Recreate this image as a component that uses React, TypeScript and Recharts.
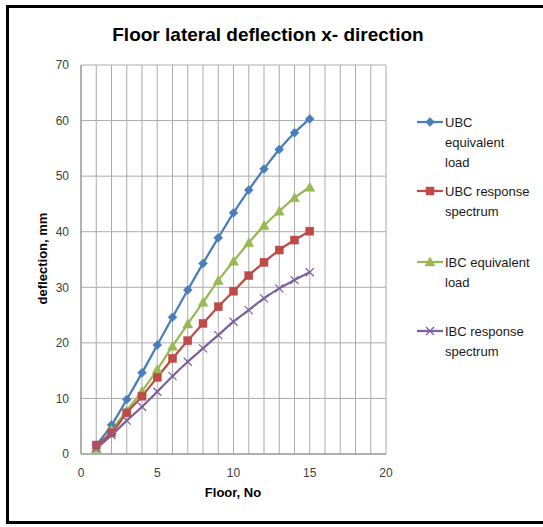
import React from "react";
import { LineChart, Line, XAxis, YAxis, CartesianGrid } from "recharts";

const floors = [1, 2, 3, 4, 5, 6, 7, 8, 9, 10, 11, 12, 13, 14, 15];
const ubcEquivalent = [1.6, 5.2, 9.8, 14.6, 19.6, 24.6, 29.5, 34.3, 38.9, 43.4, 47.5, 51.3, 54.8, 57.8, 60.3];
const ubcResponse = [1.6, 3.8, 7.4, 10.4, 13.8, 17.2, 20.4, 23.5, 26.5, 29.3, 32.1, 34.5, 36.7, 38.5, 40.1];
const ibcEquivalent = [1.0, 4.3, 7.8, 11.3, 15.2, 19.4, 23.4, 27.3, 31.2, 34.7, 38.0, 41.1, 43.7, 46.1, 48.0];
const ibcResponse = [1.0, 3.4, 6.0, 8.5, 11.2, 14.0, 16.6, 19.0, 21.4, 23.8, 25.9, 28.0, 29.8, 31.3, 32.7];
const xTicks = [0, 1, 2, 3, 4, 5, 6, 7, 8, 9, 10, 11, 12, 13, 14, 15, 16, 17, 18, 19, 20];
const yTicks = [0, 10, 20, 30, 40, 50, 60, 70];

const data = floors.map((f, i) => ({
  floor: f,
  ubcEq: ubcEquivalent[i],
  ubcRs: ubcResponse[i],
  ibcEq: ibcEquivalent[i],
  ibcRs: ibcResponse[i],
}));

const BLUE = "#4A7EBB";
const RED = "#BE4B48";
const GREEN = "#98B954";
const PURPLE = "#7D60A0";

const FONT = "'Liberation Sans', Arial, sans-serif";

type Shape = "diamond" | "square" | "triangle" | "cross";

function marker(shape: Shape, color: string, cx: number, cy: number, key?: any) {
  if (shape === "diamond") {
    const s = 4.5;
    return (
      <path key={key} d={`M${cx},${cy - s} L${cx + s},${cy} L${cx},${cy + s} L${cx - s},${cy} Z`} fill={color} stroke={color} strokeWidth={0.5} />
    );
  }
  if (shape === "square") {
    const s = 4;
    return <rect key={key} x={cx - s} y={cy - s} width={2 * s} height={2 * s} fill={color} stroke={color} strokeWidth={0.5} />;
  }
  if (shape === "triangle") {
    const s = 5;
    return (
      <path key={key} d={`M${cx},${cy - s} L${cx + s},${cy + s * 0.8} L${cx - s},${cy + s * 0.8} Z`} fill={color} stroke={color} strokeWidth={0.5} />
    );
  }
  const s = 4;
  return (
    <g key={key} stroke={color} strokeWidth={1.2}>
      <line x1={cx - s} y1={cy - s} x2={cx + s} y2={cy + s} />
      <line x1={cx - s} y1={cy + s} x2={cx + s} y2={cy - s} />
    </g>
  );
}

const makeDot = (shape: Shape, color: string) => (props: any) => {
  const { cx, cy, index } = props;
  if (cx == null || cy == null) return <g key={`d-${index}`} />;
  return marker(shape, color, cx, cy, `${shape}-${index}`);
};

const legendItems: { lines: string[]; color: string; shape: Shape; top: number }[] = [
  { lines: ["UBC", "equivalent", "load"], color: BLUE, shape: "diamond", top: 122 },
  { lines: ["UBC response", "spectrum"], color: RED, shape: "square", top: 191 },
  { lines: ["IBC equivalent", "load"], color: GREEN, shape: "triangle", top: 262 },
  { lines: ["IBC response", "spectrum"], color: PURPLE, shape: "cross", top: 331 },
];

export default function App() {
  return (
    <div style={{ position: "absolute", left: 0, top: 0, width: 543, height: 527, background: "#fff", overflow: "hidden", fontFamily: FONT }}>
      <div
        style={{
          position: "absolute",
          left: 6,
          top: 5,
          width: 560,
          height: 519,
          border: "3px solid #000",
          boxSizing: "border-box",
        }}
      />
      <div
        style={{
          position: "absolute",
          left: 0,
          width: 536,
          top: 24,
          textAlign: "center",
          fontSize: 19,
          fontWeight: "bold",
          color: "#000",
        }}
      >
        Floor lateral deflection x- direction
      </div>
      <div style={{ position: "absolute", left: 0, top: 0 }}>
        <LineChart width={543} height={527} data={data} margin={{ top: 65, right: 157, bottom: 43, left: 41 }}>
          <CartesianGrid stroke="#ABABAB" strokeWidth={1} />
          <XAxis
            dataKey="floor"
            type="number"
            domain={[0, 20]}
            ticks={xTicks}
            interval={0}
            tickLine={false}
            axisLine={{ stroke: "#8C8C8C" }}
            tickMargin={8}
            height={30}
            tick={{ fill: "#404040", fontSize: 12, fontFamily: FONT }}
            tickFormatter={(v: number) => (v % 5 === 0 ? String(v) : "")}
          />
          <YAxis
            type="number"
            domain={[0, 70]}
            ticks={yTicks}
            interval={0}
            tickLine={false}
            axisLine={{ stroke: "#8C8C8C" }}
            tickMargin={6}
            width={40}
            tick={{ fill: "#404040", fontSize: 12, fontFamily: FONT }}
          />
          <Line type="monotone" dataKey="ubcEq" stroke={BLUE} strokeWidth={2.25} dot={makeDot("diamond", BLUE)} isAnimationActive={false} />
          <Line type="monotone" dataKey="ibcEq" stroke={GREEN} strokeWidth={2.25} dot={makeDot("triangle", GREEN)} isAnimationActive={false} />
          <Line type="monotone" dataKey="ubcRs" stroke={RED} strokeWidth={2.25} dot={makeDot("square", RED)} isAnimationActive={false} />
          <Line type="monotone" dataKey="ibcRs" stroke={PURPLE} strokeWidth={2.25} dot={makeDot("cross", PURPLE)} isAnimationActive={false} />
        </LineChart>
      </div>
      <div
        style={{
          position: "absolute",
          left: 133,
          width: 200,
          top: 485,
          textAlign: "center",
          fontSize: 13,
          fontWeight: "bold",
          color: "#000",
        }}
      >
        Floor, No
      </div>
      <div
        style={{
          position: "absolute",
          left: 42,
          top: 260,
          width: 0,
          height: 0,
        }}
      >
        <div
          style={{
            position: "absolute",
            left: -100,
            top: -9,
            width: 200,
            textAlign: "center",
            fontSize: 13,
            fontWeight: "bold",
            color: "#000",
            transform: "rotate(-90deg)",
            whiteSpace: "nowrap",
          }}
        >
          deflection, mm
        </div>
      </div>
      {legendItems.map((it) => (
        <div key={it.lines[0] + it.top} style={{ position: "absolute", left: 416, top: it.top - 10, width: 127 }}>
          <svg width={28} height={20} style={{ position: "absolute", left: 0, top: 0 }}>
            <line x1={1} y1={10} x2={27} y2={10} stroke={it.color} strokeWidth={2.25} />
            {marker(it.shape, it.color, 14, 10)}
          </svg>
          <div style={{ position: "absolute", left: 29, top: 1, fontSize: 13, lineHeight: "20px", color: "#1a1a1a", whiteSpace: "nowrap" }}>
            {it.lines.map((l) => (
              <div key={l}>{l}</div>
            ))}
          </div>
        </div>
      ))}
    </div>
  );
}
